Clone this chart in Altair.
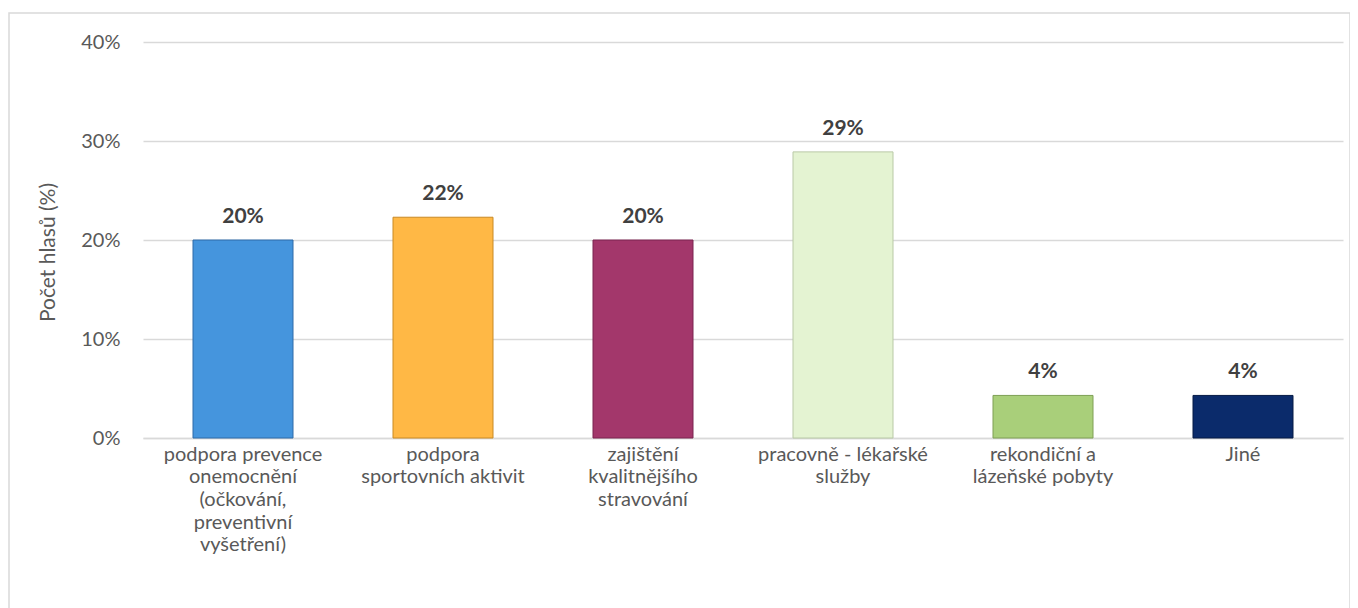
import altair as alt
import pandas as pd

categories = [
    "podpora prevence|onemocnění|(očkování,|preventivní|vyšetření)",
    "podpora|sportovních aktivit",
    "zajištění|kvalitnějšího|stravování",
    "pracovně - lékařské|služby",
    "rekondiční a|lázeňské pobyty",
    "Jiné",
]
values = [0.200, 0.223, 0.200, 0.289, 0.043, 0.043]
labels = ["20%", "22%", "20%", "29%", "4%", "4%"]
colors = ["#4595DD", "#FFB845", "#A3376B", "#E4F3D2", "#A9CF7A", "#0B2B6B"]
strokes = ["#2F6BA8", "#C98A25", "#7A2450", "#B9C9A6", "#7E9F55", "#061A45"]

df = pd.DataFrame({"cat": categories, "val": values, "lab": labels})

FONT = "Lato"
GRAY = "#595959"
FS = 20

x = alt.X("cat:N", sort=categories, title=None,
          scale=alt.Scale(paddingInner=0.5, paddingOuter=0.25),
          axis=alt.Axis(labelExpr="split(datum.label, '|')", labelAngle=0,
                        labelFont=FONT, labelFontSize=FS, labelColor=GRAY,
                        labelLineHeight=22.7, labelPadding=6, labelBaseline="top",
                        ticks=False, domain=True, domainColor="#D9D9D9",
                        domainWidth=1.5, labelLimit=300))
y = alt.Y("val:Q", title="Počet hlasů (%)",
          scale=alt.Scale(domain=[0, 0.4]),
          axis=alt.Axis(format=".0%", values=[0, 0.1, 0.2, 0.3, 0.4],
                        labelFont=FONT, labelFontSize=FS, labelColor=GRAY,
                        labelPadding=23, ticks=False, domain=False,
                        grid=True, gridColor="#D9D9D9", gridWidth=1.5,
                        titleFont=FONT, titleFontSize=FS + 1, titleColor=GRAY,
                        titleFontWeight="normal", titleAngle=-90,
                        titleX=-95, titleY=210, titleAlign="center",
                        titleBaseline="middle"))

border = alt.Chart(alt.Data(values=[{}])).mark_rect(
    fill=None, stroke="#D9D9D9", strokeWidth=1.5
).encode(x=alt.value(-134), x2=alt.value(1207), y=alt.value(-29), y2=alt.value(640))

bars = alt.Chart(df).mark_bar(strokeWidth=1).encode(
    x=x, y=y,
    color=alt.Color("cat:N", sort=categories, scale=alt.Scale(domain=categories, range=colors), legend=None),
    stroke=alt.Stroke("cat:N", sort=categories, scale=alt.Scale(domain=categories, range=strokes), legend=None),
)

text = alt.Chart(df).mark_text(
    font=FONT, fontSize=FS + 1, fontWeight="bold", color="#404040",
    baseline="alphabetic", dy=-17
).encode(x=alt.X("cat:N", sort=categories), y="val:Q", text="lab:N")

chart = alt.layer(border, bars, text).resolve_scale(color="independent", stroke="independent").properties(
    width=1200, height=396,
    padding={"left": 135, "top": 34, "right": 7, "bottom": 170},
    autosize=alt.AutoSizeParams(type="none"),
).configure_view(stroke=None)

chart.save("out.html", embed_options={"renderer": "svg", "actions": False})
